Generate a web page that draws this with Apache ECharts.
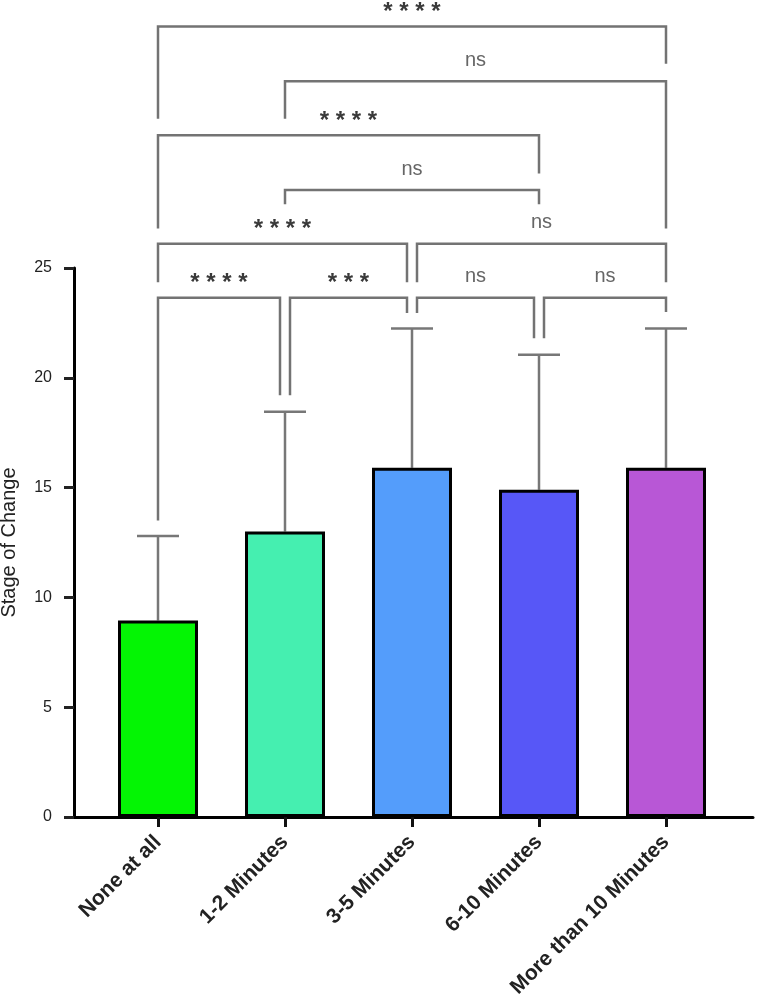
<!DOCTYPE html>
<html>
<head>
<meta charset="utf-8">
<script src="https://cdn.jsdelivr.net/npm/echarts@6/dist/echarts.min.js"></script>
<style>
  html, body { margin: 0; padding: 0; background: #fff; }
  #chart { width: 757px; height: 1004px; }
</style>
</head>
<body>
<div id="chart"></div>
<script>
// group means and upper end of the error bars (SD)
const categories = ['None at all', '1-2 Minutes', '3-5 Minutes', '6-10 Minutes', 'More than 10 Minutes'];
const means = [8.95, 13.0, 15.9, 14.9, 15.9];
const errTops = [12.8, 18.45, 22.25, 21.05, 22.25];
const yTicks = [0, 5, 10, 15, 20, 25];

// significance brackets (axis units)
const bracketFrom  = [0, 1, 0, 1, 0, 2, 0, 1, 2, 3];
const bracketTo    = [4, 4, 3, 3, 2, 4, 1, 2, 3, 4];
const bracketLevel = [36.0, 33.5, 31.05, 28.55, 26.1, 26.1, 23.65, 23.65, 23.65, 23.65];
const legLeftEnd   = [31.8, 31.8, 26.8, 27.9, 24.35, 24.35, 13.5, 19.2, 22.95, 21.8];
const legRightEnd  = [34.3, 26.8, 29.3, 27.9, 24.35, 24.35, 19.2, 22.95, 21.8, 23.0];
const bracketText  = ['****', 'ns', '****', 'ns', '****', 'ns', '****', '***', 'ns', 'ns'];

const barColors = ['#04f504', '#45efb0', '#549dfb', '#5757f7', '#b857d6'];
const FONT = '"Liberation Sans", Arial, sans-serif';

let myChart = echarts.init(document.getElementById('chart'));

let option = {
  animation: false,
  backgroundColor: '#fff',
  grid: [
    { left: 74, right: 4, top: 268, bottom: 187, outerBoundsMode: 'none', containLabel: false },      // axis frame
    { left: 94.5, right: 27.5, top: 268, bottom: 187, outerBoundsMode: 'none', containLabel: false }  // bars
  ],
  xAxis: [
    {
      gridIndex: 0, type: 'value', min: 0, max: 1,
      axisLine: { show: true, lineStyle: { color: '#000', width: 3 } },
      axisTick: { show: false }, axisLabel: { show: false }, splitLine: { show: false }
    },
    {
      gridIndex: 1, type: 'category', data: categories,
      axisLine: { show: false },
      axisTick: { show: true, alignWithLabel: true, length: 10, lineStyle: { color: '#111', width: 3 } },
      axisLabel: {
        rotate: 45, margin: 22, interval: 0,
        fontFamily: FONT, fontSize: 21, fontWeight: 'bold', color: '#222'
      }
    }
  ],
  yAxis: [
    {
      gridIndex: 0, type: 'value', min: 0, max: 25, interval: 5,
      name: 'Stage of Change', nameLocation: 'middle', nameGap: 55,
      nameTextStyle: { fontFamily: FONT, fontSize: 20, color: '#222' },
      axisLine: { show: true, lineStyle: { color: '#000', width: 3 } },
      axisTick: { show: true, length: 10, lineStyle: { color: '#222', width: 3 } },
      axisLabel: {
        margin: 22, fontFamily: FONT, fontSize: 16, color: '#222',
        formatter: v => (yTicks.indexOf(v) >= 0 ? String(v) : '')
      },
      splitLine: { show: false }
    },
    { gridIndex: 1, type: 'value', min: 0, max: 25, show: false }
  ],
  series: [
    {
      type: 'custom',
      xAxisIndex: 1, yAxisIndex: 1,
      z: 1,
      data: means.map((m, i) => [i, m, errTops[i]]),
      renderItem: function (params, api) {
        let i = api.value(0);
        let p0 = api.coord([i, api.value(1)]);
        let p1 = api.coord([i, api.value(2)]);
        let st = { stroke: '#777', lineWidth: 2.5 };
        return {
          type: 'group',
          children: [
            { type: 'line', shape: { x1: p0[0], y1: p0[1], x2: p1[0], y2: p1[1] }, style: st },
            { type: 'line', shape: { x1: p1[0] - 21, y1: p1[1], x2: p1[0] + 21, y2: p1[1] }, style: st }
          ]
        };
      }
    },
    {
      type: 'bar',
      xAxisIndex: 1, yAxisIndex: 1,
      z: 3,
      barWidth: 80,
      data: means.map((m, i) => ({
        value: m,
        itemStyle: { color: barColors[i], borderColor: '#000', borderWidth: 3 }
      }))
    },
    {
      type: 'custom',
      xAxisIndex: 1, yAxisIndex: 1,
      clip: false,
      z: 4,
      data: bracketFrom.map((f, k) => [f, bracketLevel[k]]),
      renderItem: function (params, api) {
        let k = params.dataIndex;
        let a = bracketFrom[k], b = bracketTo[k], lv = bracketLevel[k];
        // nudge legs apart where two brackets on the same level meet
        let offL = 0, offR = 0;
        for (let j = 0; j < bracketFrom.length; j++) {
          if (bracketLevel[j] !== lv || j === k) continue;
          if (bracketTo[j] === a) offL = 5;
          if (bracketFrom[j] === b) offR = -5;
        }
        let xl = api.coord([a, lv])[0] + offL;
        let xr = api.coord([b, lv])[0] + offR;
        let yl = api.coord([a, lv])[1];
        let yA = api.coord([a, legLeftEnd[k]])[1];
        let yB = api.coord([b, legRightEnd[k]])[1];
        let txt = bracketText[k];
        let stars = txt.indexOf('*') >= 0;
        return {
          type: 'group',
          children: [
            {
              type: 'polyline',
              shape: { points: [[xl, yA], [xl, yl], [xr, yl], [xr, yB]] },
              style: { stroke: '#737373', lineWidth: 2.5, fill: null }
            },
            {
              type: 'text',
              style: {
                x: (xl + xr) / 2,
                y: stars ? yl - 14 : yl - 21,
                text: stars ? txt.split('').join(' ') : txt,
                textAlign: 'center', textVerticalAlign: 'middle',
                fontFamily: FONT, fontSize: stars ? 24 : 20,
                fontWeight: stars ? 'bold' : 'normal',
                fill: stars ? '#3a3a3a' : '#666'
              }
            }
          ]
        };
      }
    }
  ]
};

myChart.setOption(option);
</script>
</body>
</html>
